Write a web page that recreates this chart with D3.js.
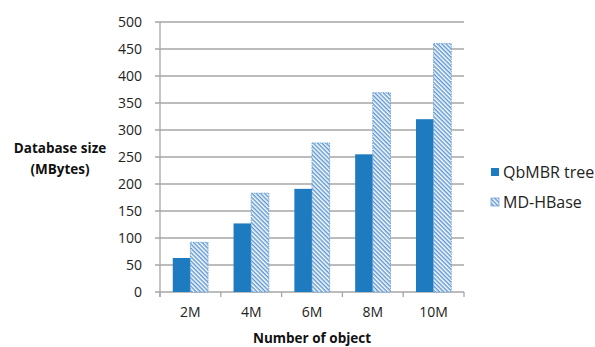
<!DOCTYPE html>
<html><head><meta charset="utf-8">
<script src="https://cdn.jsdelivr.net/npm/d3@7"></script>
<style>body{margin:0;background:#fff;overflow:hidden}svg{display:block}</style>
</head><body>
<script>
const categories = ["2M","4M","6M","8M","10M"];
const seriesNames = ["QbMBR tree","MD-HBase"];
const qbmbr = [63,127,191,255,320];
const mdhbase = [92,183,276,369,460];
const yTicks = [0,50,100,150,200,250,300,350,400,450,500];

const W=595,H=347;
const svg=d3.select("body").append("svg").attr("width",W).attr("height",H);
const defs=svg.append("defs");
const pat=defs.append("pattern").attr("id","hatch").attr("patternUnits","userSpaceOnUse")
  .attr("width",3).attr("height",3).attr("patternTransform","rotate(45)");
pat.append("rect").attr("width",3).attr("height",3).attr("fill","#fff");
pat.append("rect").attr("width",3).attr("height",1.5).attr("fill","#5f98d2");

const L=160,R=464,T=22,B=292;
const font="'Open Sans', sans-serif";
const y=d3.scaleLinear().domain([0,500]).range([B,T]);
const x0=d3.scaleBand().domain(categories).range([L,R]).padding(0);
const x1=d3.scaleBand().domain(seriesNames).range([x0.bandwidth()*0.21,x0.bandwidth()*0.79]).padding(0);

// gridlines
svg.append("g").selectAll("line").data(yTicks).join("line")
  .attr("x1",L-5).attr("x2",R).attr("y1",d=>y(d)).attr("y2",d=>y(d))
  .attr("stroke","#a6a6a6").attr("stroke-width",1.3);
// y labels
svg.append("g").selectAll("text").data(yTicks).join("text")
  .attr("x",L-18).attr("y",d=>y(d)).attr("dy","0.35em").attr("text-anchor","end")
  .attr("font-family",font).attr("font-size",14).attr("fill","#222").text(d=>d);
// y axis line
svg.append("line").attr("x1",L).attr("x2",L).attr("y1",T).attr("y2",B+5)
  .attr("stroke","#a6a6a6").attr("stroke-width",1.3);
// x ticks
const bounds=categories.map(c=>x0(c)).concat([R]);
svg.append("g").selectAll("line").data(bounds).join("line")
  .attr("x1",d=>d).attr("x2",d=>d).attr("y1",B).attr("y2",B+5)
  .attr("stroke","#a6a6a6").attr("stroke-width",1.3);

const data=categories.map((c,i)=>({c,vals:[{s:seriesNames[0],v:qbmbr[i]},{s:seriesNames[1],v:mdhbase[i]}]}));
const g=svg.append("g").selectAll("g").data(data).join("g").attr("transform",d=>`translate(${x0(d.c)},0)`);
g.selectAll("rect").data(d=>d.vals).join("rect")
  .attr("x",d=>x1(d.s)).attr("width",x1.bandwidth())
  .attr("y",d=>y(d.v)).attr("height",d=>B-y(d.v))
  .attr("fill",d=>d.s===seriesNames[0]?"#1f7bbf":"url(#hatch)")
  .attr("stroke",d=>d.s===seriesNames[0]?"none":"#6fa3d6")
  .attr("stroke-width",1).attr("stroke-dasharray",d=>d.s===seriesNames[0]?null:"1.5,1");

// x labels
svg.append("g").selectAll("text").data(categories).join("text")
  .attr("x",d=>x0(d)+x0.bandwidth()/2).attr("y",B+25).attr("text-anchor","middle")
  .attr("font-family",font).attr("font-size",14).attr("fill","#222").text(d=>d);

// axis titles
svg.append("text").attr("x",60).attr("y",153).attr("text-anchor","middle")
  .attr("font-family",font).attr("font-weight","bold").attr("font-size",13.5).attr("fill","#111").text("Database size");
svg.append("text").attr("x",60).attr("y",174).attr("text-anchor","middle")
  .attr("font-family",font).attr("font-weight","bold").attr("font-size",13.5).attr("fill","#111").text("(MBytes)");
svg.append("text").attr("x",312).attr("y",343).attr("text-anchor","middle")
  .attr("font-family",font).attr("font-weight","bold").attr("font-size",13.5).attr("fill","#111").text("Number of object");

// legend
const lg=svg.append("g").selectAll("g").data(seriesNames).join("g")
  .attr("transform",(d,i)=>`translate(491,${172+i*30})`);
lg.append("rect").attr("x",0).attr("y",-4).attr("width",8).attr("height",8)
  .attr("fill",(d,i)=>i===0?"#1f7bbf":"url(#hatch)").attr("stroke",(d,i)=>i===0?"none":"#6fa3d6").attr("stroke-width",0.8);
lg.append("text").attr("x",12).attr("y",0).attr("dy","0.35em")
  .attr("font-family",font).attr("font-size",16).attr("fill","#222").text(d=>d);
</script>
</body></html>
